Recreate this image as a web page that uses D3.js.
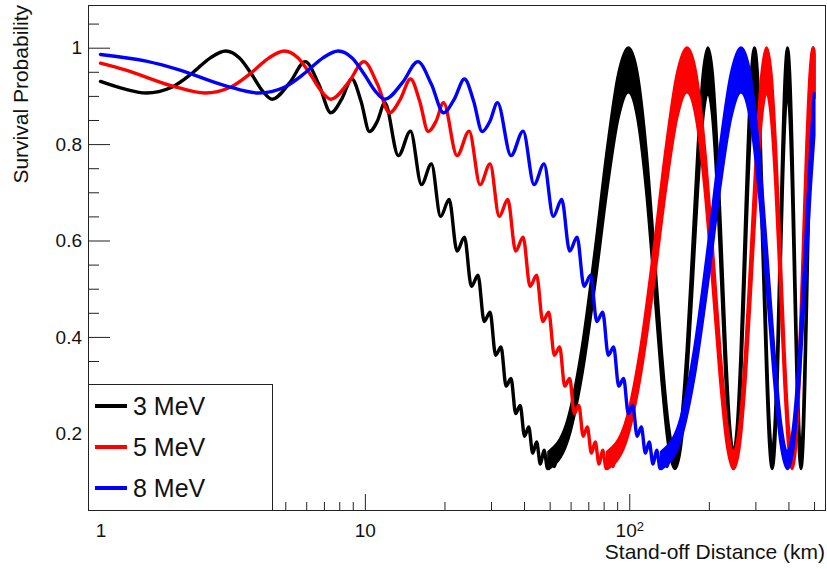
<!DOCTYPE html>
<html>
<head>
<meta charset="utf-8">
<script src="https://cdn.jsdelivr.net/npm/d3@7"></script>
<style>
html, body { margin: 0; padding: 0; background: #fff; }
svg { display: block; font-family: "Liberation Sans", Arial, Helvetica, sans-serif; }
</style>
</head>
<body>
<svg id="chart" width="827" height="569"></svg>
<script>
// ---------------- data ----------------
const seriesNames = ["3 MeV", "5 MeV", "8 MeV"];

// resolved part of each curve: stand-off distance (km) and survival probability
const dist3 = [1, 1.24, 1.488, 1.86, 2.232, 2.604, 2.975, 3.347, 3.719, 4.091, 4.463, 5.207, 5.951, 6.695, 7.439, 8.182, 8.926, 9.67, 10.41, 11.16, 11.9, 13.39, 14.88, 16.37, 17.85, 19.34, 20.83, 22.32, 23.8, 25.29, 26.78, 28.27, 29.75, 31.24, 32.73, 34.22, 35.71, 37.19, 38.68, 40.17, 41.66, 43.14, 44.63, 46.12, 47.61, 49.1, 50.58, 52.07, 53.56];
const prob3 = [0.930, 0.914, 0.906, 0.918, 0.948, 0.979, 0.993, 0.979, 0.946, 0.911, 0.893, 0.928, 0.971, 0.924, 0.865, 0.894, 0.935, 0.889, 0.826, 0.848, 0.886, 0.776, 0.827, 0.716, 0.759, 0.650, 0.685, 0.578, 0.607, 0.505, 0.528, 0.432, 0.451, 0.362, 0.379, 0.298, 0.314, 0.241, 0.258, 0.194, 0.213, 0.159, 0.182, 0.136, 0.165, 0.127, 0.162, 0.131, 0.175];

const dist5 = [1, 1.24, 1.86, 2.48, 3.099, 3.719, 4.339, 4.959, 5.579, 6.199, 6.819, 7.439, 8.678, 9.918, 11.16, 12.4, 13.64, 14.88, 16.12, 17.36, 18.6, 19.84, 22.32, 24.8, 27.28, 29.75, 32.23, 34.71, 37.19, 39.67, 42.15, 44.63, 47.11, 49.59, 52.07, 54.55, 57.03, 59.51, 61.99, 64.47, 66.95, 69.43, 71.91, 74.39, 76.87, 79.35, 81.82, 84.3, 86.78, 89.26];
const prob5 = [0.968, 0.954, 0.921, 0.906, 0.918, 0.948, 0.979, 0.993, 0.979, 0.946, 0.911, 0.893, 0.928, 0.971, 0.924, 0.865, 0.894, 0.935, 0.889, 0.826, 0.848, 0.886, 0.776, 0.827, 0.716, 0.759, 0.650, 0.685, 0.578, 0.607, 0.505, 0.528, 0.432, 0.451, 0.362, 0.379, 0.298, 0.314, 0.241, 0.258, 0.194, 0.213, 0.159, 0.182, 0.136, 0.165, 0.127, 0.162, 0.131, 0.175];

const dist8 = [1, 1.488, 1.984, 2.975, 3.967, 4.959, 5.951, 6.943, 7.935, 8.926, 9.918, 10.91, 11.9, 13.89, 15.87, 17.85, 19.84, 21.82, 23.8, 25.79, 27.77, 29.75, 31.74, 35.71, 39.67, 43.64, 47.61, 51.57, 55.54, 59.51, 63.48, 67.44, 71.41, 75.38, 79.35, 83.31, 87.28, 91.25, 95.21, 99.18, 103.1, 107.1, 111.1, 115.1, 119.0, 123.0, 127.0, 130.9, 134.9, 138.9, 142.8];
const prob8 = [0.986, 0.972, 0.954, 0.921, 0.906, 0.918, 0.948, 0.979, 0.993, 0.979, 0.946, 0.911, 0.893, 0.928, 0.971, 0.924, 0.865, 0.894, 0.935, 0.889, 0.826, 0.848, 0.886, 0.776, 0.827, 0.716, 0.759, 0.650, 0.685, 0.578, 0.607, 0.505, 0.528, 0.432, 0.451, 0.362, 0.379, 0.298, 0.314, 0.241, 0.258, 0.194, 0.213, 0.159, 0.182, 0.136, 0.165, 0.127, 0.162, 0.131, 0.175];

// far part, where the fast wiggles merge into a thick band: upper and lower edge of the band
const bandDist3 = [49.59, 57.86, 66.12, 74.39, 82.65, 90.92, 99.18, 107.45, 115.71, 123.98, 132.24, 140.51, 148.77, 157.04, 165.3, 173.57, 181.83, 190.1, 198.36, 206.63, 214.89, 223.16, 231.42, 239.69, 247.96, 256.22, 264.49, 272.75, 281.02, 289.28, 297.55, 305.81, 314.08, 322.34, 330.61, 338.87, 347.14, 355.4, 363.67, 371.93, 380.2, 388.46, 396.73, 404.99, 413.26, 421.52, 429.79, 438.05, 446.32, 454.58, 462.85, 471.12, 479.38, 487.65, 495.91, 500];
const bandHigh3 = [0.1615, 0.2189, 0.374, 0.5838, 0.7923, 0.9444, 1.0, 0.9444, 0.7923, 0.5838, 0.374, 0.2189,
                   0.1615, 0.2189, 0.374, 0.5838, 0.7923, 0.9444, 1.0, 0.9444, 0.7923, 0.5838, 0.374, 0.2189,
                   0.1615, 0.2189, 0.374, 0.5838, 0.7923, 0.9444, 1.0, 0.9444, 0.7923, 0.5838, 0.374, 0.2189,
                   0.1615, 0.2189, 0.374, 0.5838, 0.7923, 0.9444, 1.0, 0.9444, 0.7923, 0.5838, 0.374, 0.2189,
                   0.1615, 0.2189, 0.374, 0.5838, 0.7923, 0.9444, 1.0, 0.9863];
const bandLow3 = [0.1265, 0.1776, 0.319, 0.5142, 0.7107, 0.8551, 0.908, 0.8551, 0.7107, 0.5142, 0.319, 0.1776,
                  0.1265, 0.1776, 0.319, 0.5142, 0.7107, 0.8551, 0.908, 0.8551, 0.7107, 0.5142, 0.319, 0.1776,
                  0.1265, 0.1776, 0.319, 0.5142, 0.7107, 0.8551, 0.908, 0.8551, 0.7107, 0.5142, 0.319, 0.1776,
                  0.1265, 0.1776, 0.319, 0.5142, 0.7107, 0.8551, 0.908, 0.8551, 0.7107, 0.5142, 0.319, 0.1776,
                  0.1265, 0.1776, 0.319, 0.5142, 0.7107, 0.8551, 0.908, 0.8949];

const bandDist5 = [82.65, 96.43, 110.2, 123.98, 137.75, 151.53, 165.3, 179.08, 192.85, 206.63, 220.4, 234.18, 247.96, 261.73, 275.51, 289.28, 303.06, 316.83, 330.61, 344.38, 358.16, 371.93, 385.71, 399.48, 413.26, 427.03, 440.81, 454.58, 468.36, 482.13, 495.91, 500];
const bandHigh5 = [0.1615, 0.2189, 0.374, 0.5838, 0.7923, 0.9444, 1.0, 0.9444, 0.7923, 0.5838, 0.374, 0.2189,
                   0.1615, 0.2189, 0.374, 0.5838, 0.7923, 0.9444, 1.0, 0.9444, 0.7923, 0.5838, 0.374, 0.2189,
                   0.1615, 0.2189, 0.374, 0.5838, 0.7923, 0.9444, 1.0, 0.995];
const bandLow5 = [0.1265, 0.1776, 0.319, 0.5142, 0.7107, 0.8551, 0.908, 0.8551, 0.7107, 0.5142, 0.319, 0.1776,
                  0.1265, 0.1776, 0.319, 0.5142, 0.7107, 0.8551, 0.908, 0.8551, 0.7107, 0.5142, 0.319, 0.1776,
                  0.1265, 0.1776, 0.319, 0.5142, 0.7107, 0.8551, 0.908, 0.9032];

const bandDist8 = [132.24, 154.28, 176.32, 198.36, 220.4, 242.45, 264.49, 286.53, 308.57, 330.61, 352.65, 374.69, 396.73, 418.77, 440.81, 462.85, 484.89, 500];
const bandHigh8 = [0.1615, 0.2189, 0.374, 0.5838, 0.7923, 0.9444, 1.0, 0.9444, 0.7923, 0.5838, 0.374, 0.2189,
                   0.1615, 0.2189, 0.374, 0.5838, 0.7923, 0.9055];
const bandLow8 = [0.1265, 0.1776, 0.319, 0.5142, 0.7107, 0.8551, 0.908, 0.8551, 0.7107, 0.5142, 0.319, 0.1776,
                  0.1265, 0.1776, 0.319, 0.5142, 0.7107, 0.8181];

// axis ticks
const xMajorTicks = [1, 10, 100];
const xMinorTicks = [2, 3, 4, 5, 6, 7, 8, 9, 20, 30, 40, 50, 60, 70, 80, 90, 200, 300, 400, 500];
const yMajorTicks = [0.2, 0.4, 0.6, 0.8, 1];
const yMinorTicks = [0.05, 0.1, 0.15, 0.25, 0.3, 0.35, 0.45, 0.5, 0.55, 0.65, 0.7, 0.75, 0.85, 0.9, 0.95, 1.05];
const xTitle = "Stand-off Distance (km)";
const yTitle = "Survival Probability";

// ---------------- drawing ----------------
const colors = ["#000000", "#ff0000", "#0000ff"];
const svg = d3.select("#chart");
const L = 88, R = 825, T = 6, B = 510;

const x = d3.scaleLog().domain([0.897, 550]).range([L, R]);
const y = d3.scaleLinear().domain([0.0409, 1.0865]).range([B, T]);

svg.append("rect").attr("width", 827).attr("height", 569).attr("fill", "#fff");

svg.append("defs").append("clipPath").attr("id", "plotClip")
  .append("rect").attr("x", L).attr("y", T).attr("width", R - L).attr("height", B - T);

const series = [
  { line: d3.zip(dist3, prob3), band: d3.zip(bandDist3, bandHigh3, bandLow3) },
  { line: d3.zip(dist5, prob5), band: d3.zip(bandDist5, bandHigh5, bandLow5) },
  { line: d3.zip(dist8, prob8), band: d3.zip(bandDist8, bandHigh8, bandLow8) }
];

const lineGen = d3.line().x(d => x(d[0])).y(d => y(d[1])).curve(d3.curveMonotoneX);
const areaGen = d3.area().x(d => x(d[0])).y0(d => y(d[2])).y1(d => y(d[1])).curve(d3.curveMonotoneX);

const plot = svg.append("g").attr("clip-path", "url(#plotClip)");
series.forEach((s, i) => {
  plot.append("path").datum(s.line)
    .attr("d", lineGen).attr("fill", "none")
    .attr("stroke", colors[i]).attr("stroke-width", 3.4)
    .attr("stroke-linejoin", "round").attr("stroke-linecap", "round");
  plot.append("path").datum(s.band)
    .attr("d", areaGen).attr("fill", colors[i])
    .attr("stroke", colors[i]).attr("stroke-width", 3)
    .attr("stroke-linejoin", "round");
});

// axes (ticks inside the frame, ROOT style)
const axisColor = "#222";
function styleAxis(g) {
  g.select(".domain").remove();
  g.selectAll(".tick line").attr("stroke", axisColor);
  g.selectAll(".tick text").attr("fill", "#111").attr("font-size", 19)
    .attr("font-family", '"Liberation Sans", Arial, Helvetica, sans-serif');
}

svg.append("g").attr("transform", `translate(${L},0)`)
  .call(d3.axisLeft(y).tickValues(yMinorTicks).tickSize(-11).tickSizeOuter(0).tickFormat(""))
  .call(styleAxis);
svg.append("g").attr("transform", `translate(${L},0)`)
  .call(d3.axisLeft(y).tickValues(yMajorTicks).tickSize(-22).tickSizeOuter(0).tickPadding(6)
        .tickFormat(d => d === 1 ? "1" : d3.format(".1f")(d)))
  .call(styleAxis);

svg.append("g").attr("transform", `translate(0,${B})`)
  .call(d3.axisBottom(x).tickValues(xMinorTicks).tickSize(-8).tickSizeOuter(0).tickFormat(""))
  .call(styleAxis);
const xMajor = svg.append("g").attr("transform", `translate(0,${B})`)
  .call(d3.axisBottom(x).tickValues(xMajorTicks).tickSize(-16).tickSizeOuter(0).tickPadding(14)
        .tickFormat(d => d === 100 ? "10" : String(d)))
  .call(styleAxis);
xMajor.selectAll(".tick text").filter(d => d === 100)
  .append("tspan").attr("dy", "-0.5em").attr("font-size", 13).text("2");

// frame
svg.append("rect").attr("x", L + 0.5).attr("y", T - 0.5).attr("width", R - L).attr("height", B - T + 1)
  .attr("fill", "none").attr("stroke", axisColor).attr("stroke-width", 1);

// titles
svg.append("text").attr("x", R).attr("y", 559).attr("text-anchor", "end")
  .attr("font-size", 21).attr("fill", "#111").text(xTitle);
svg.append("text").attr("transform", "translate(28,5) rotate(-90)").attr("text-anchor", "end")
  .attr("font-size", 21).attr("fill", "#111").text(yTitle);

// legend
const leg = svg.append("g");
leg.append("rect").attr("x", L + 0.5).attr("y", 384.5).attr("width", 184).attr("height", 126)
  .attr("fill", "#fff").attr("stroke", axisColor).attr("stroke-width", 1);
seriesNames.forEach((name, i) => {
  const cy = 406 + i * 41;
  leg.append("line").attr("x1", 95).attr("x2", 127).attr("y1", cy).attr("y2", cy)
    .attr("stroke", colors[i]).attr("stroke-width", 4);
  leg.append("text").attr("x", 133).attr("y", cy).attr("dy", "0.36em")
    .attr("font-size", 25).attr("fill", "#111").text(name);
});
</script>
</body>
</html>
